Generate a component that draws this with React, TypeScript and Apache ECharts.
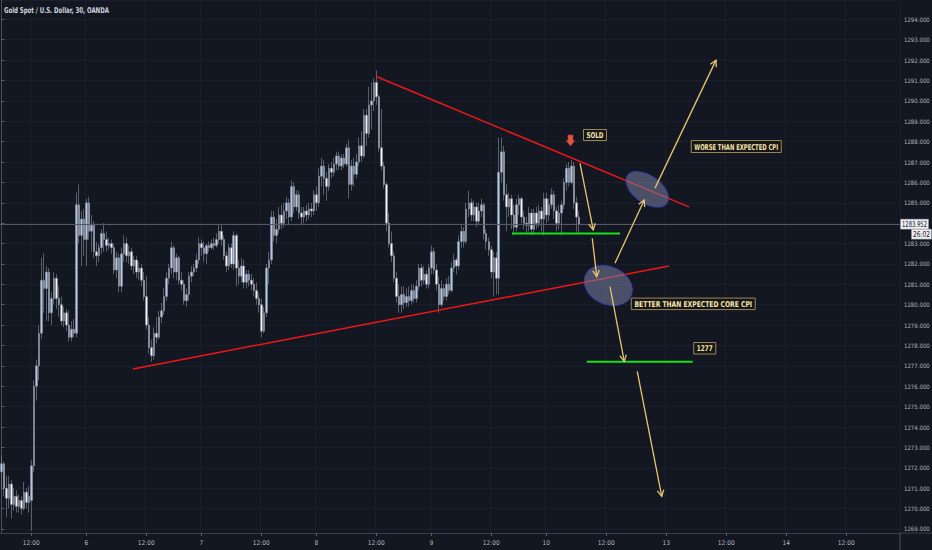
import React, { useEffect, useRef } from "react";
import * as echarts from "echarts";

// ---- candle data [open, close, low, high], one array per trading session ----
const session5: number[][] = [
  [1271.8, 1272.2, 1271.0, 1272.6], [1272.2, 1271.0, 1270.6, 1272.3], [1271.0, 1270.5, 1269.6, 1271.6],
  [1270.5, 1271.2, 1270.0, 1271.6], [1271.2, 1270.2, 1269.5, 1271.4], [1270.2, 1270.6, 1269.9, 1271.0],
  [1270.6, 1270.1, 1269.8, 1270.9], [1270.1, 1270.4, 1269.8, 1270.7], [1270.4, 1270.0, 1269.7, 1270.6],
  [1270.0, 1270.8, 1269.9, 1271.3], [1270.8, 1270.3, 1270.0, 1271.0], [1270.3, 1270.6, 1269.8, 1271.1],
  [1270.4, 1272.1, 1268.9, 1272.4], [1272.1, 1276.0, 1271.8, 1276.3], [1276.0, 1277.0, 1275.3, 1277.3],
  [1277.0, 1278.6, 1276.3, 1279.0], [1278.6, 1281.2, 1278.3, 1282.3], [1281.2, 1280.8, 1279.6, 1282.5],
  [1280.8, 1281.6, 1279.2, 1281.9], [1281.6, 1279.6, 1279.2, 1281.8], [1279.6, 1280.3, 1279.0, 1280.6],
  [1280.3, 1281.3, 1280.0, 1281.6], [1281.3, 1280.3, 1279.8, 1281.5], [1280.3, 1280.0, 1279.4, 1280.9],
  [1280.0, 1279.2, 1279.0, 1280.4], [1279.2, 1279.6, 1278.9, 1279.9], [1279.6, 1279.0, 1278.7, 1279.8],
  [1279.0, 1278.4, 1278.2, 1279.7], [1278.4, 1278.8, 1278.2, 1279.2], [1278.8, 1278.6, 1278.4, 1279.3],
  [1278.6, 1284.9, 1278.4, 1285.5], [1284.9, 1283.4, 1283.0, 1285.9], [1283.4, 1284.2, 1281.9, 1284.6],
  [1284.2, 1283.2, 1282.4, 1284.7],
];
const session6: number[][] = [
  [1283.2, 1285.0, 1281.9, 1285.2], [1285.0, 1283.6, 1283.2, 1285.3], [1283.6, 1283.9, 1282.6, 1284.4],
  [1283.9, 1282.6, 1282.3, 1284.1], [1282.6, 1282.4, 1281.9, 1283.1], [1282.4, 1282.8, 1282.1, 1283.0],
  [1282.8, 1283.5, 1282.5, 1283.7], [1283.5, 1283.2, 1282.6, 1284.0], [1283.2, 1282.9, 1282.6, 1283.6],
  [1282.9, 1283.0, 1282.7, 1283.3], [1283.0, 1282.8, 1282.5, 1283.2], [1282.8, 1281.7, 1281.5, 1283.0],
  [1281.7, 1282.3, 1281.3, 1282.6], [1282.3, 1280.9, 1280.6, 1282.5], [1280.9, 1282.5, 1280.6, 1282.8],
  [1282.5, 1283.0, 1282.1, 1283.4], [1283.0, 1282.4, 1282.1, 1283.3], [1282.4, 1282.6, 1282.0, 1282.9],
  [1282.6, 1281.9, 1281.7, 1282.8], [1281.9, 1282.2, 1281.5, 1282.4], [1282.2, 1281.6, 1281.3, 1282.4],
  [1281.6, 1281.8, 1281.2, 1282.1], [1281.8, 1281.2, 1280.9, 1282.0], [1281.2, 1280.4, 1280.2, 1281.6],
  [1280.4, 1279.0, 1278.8, 1281.4], [1279.0, 1277.9, 1277.6, 1279.4], [1277.9, 1277.5, 1277.2, 1278.3],
  [1277.5, 1278.6, 1277.3, 1278.9], [1278.6, 1278.4, 1278.1, 1279.4], [1278.4, 1279.4, 1278.3, 1279.7],
  [1279.4, 1279.7, 1279.1, 1280.1], [1279.7, 1280.4, 1279.5, 1280.8], [1280.4, 1281.3, 1280.2, 1281.6],
  [1281.3, 1281.8, 1281.0, 1282.0], [1281.8, 1282.8, 1281.5, 1283.1], [1282.8, 1281.6, 1281.3, 1282.9],
  [1281.6, 1282.3, 1281.2, 1282.5], [1282.3, 1281.2, 1281.0, 1282.4], [1281.2, 1281.0, 1280.7, 1281.6],
  [1281.0, 1280.2, 1280.0, 1281.2], [1280.2, 1280.5, 1279.9, 1280.8], [1280.5, 1281.4, 1280.2, 1281.6],
  [1281.4, 1281.6, 1281.1, 1281.9], [1281.6, 1281.8, 1281.4, 1282.0], [1281.8, 1282.2, 1281.6, 1282.5],
  [1282.2, 1283.0, 1282.0, 1283.3],
];
const session7: number[][] = [
  [1283.0, 1282.8, 1282.4, 1283.2], [1282.8, 1282.5, 1282.1, 1283.1], [1282.5, 1282.9, 1282.0, 1283.0],
  [1282.9, 1282.8, 1282.6, 1283.1], [1282.8, 1283.0, 1282.7, 1283.2], [1283.0, 1282.9, 1282.7, 1283.3],
  [1282.9, 1283.2, 1282.8, 1283.5], [1283.2, 1283.6, 1283.0, 1283.9], [1283.6, 1283.2, 1282.9, 1283.9],
  [1283.2, 1282.4, 1282.2, 1283.4], [1282.4, 1281.9, 1281.6, 1282.6], [1281.9, 1282.8, 1281.7, 1283.0],
  [1282.8, 1282.0, 1281.8, 1283.0], [1282.0, 1283.4, 1281.7, 1283.6], [1283.4, 1281.8, 1280.9, 1283.5],
  [1281.8, 1281.4, 1281.0, 1282.2], [1281.4, 1281.9, 1281.1, 1282.3], [1281.9, 1281.1, 1280.8, 1282.2],
  [1281.1, 1281.5, 1280.8, 1281.7], [1281.5, 1281.2, 1280.9, 1281.7], [1281.2, 1281.0, 1280.7, 1281.5],
  [1281.0, 1280.7, 1280.4, 1281.3], [1280.7, 1280.3, 1280.0, 1281.1], [1280.3, 1280.0, 1279.6, 1280.6],
  [1280.0, 1278.7, 1278.4, 1280.3], [1278.7, 1279.6, 1278.6, 1279.9], [1279.6, 1281.8, 1279.4, 1282.0],
  [1281.8, 1282.2, 1281.0, 1282.6], [1282.2, 1284.3, 1282.0, 1284.6], [1284.3, 1283.4, 1283.1, 1284.6],
  [1283.4, 1283.7, 1283.0, 1284.2], [1283.7, 1284.4, 1283.5, 1284.8], [1284.4, 1284.0, 1283.7, 1284.9],
  [1284.0, 1284.6, 1283.8, 1285.0], [1284.6, 1285.0, 1284.2, 1285.3], [1285.0, 1284.3, 1283.9, 1285.2],
  [1284.3, 1285.8, 1284.1, 1286.1], [1285.8, 1284.8, 1284.5, 1286.0], [1284.8, 1285.4, 1284.6, 1285.6],
  [1285.4, 1284.5, 1284.2, 1285.6], [1284.5, 1284.3, 1283.9, 1284.8], [1284.3, 1284.6, 1284.0, 1284.8],
  [1284.6, 1284.4, 1284.1, 1284.9], [1284.4, 1284.7, 1284.2, 1285.0], [1284.7, 1284.6, 1284.3, 1285.0],
  [1284.6, 1285.4, 1284.4, 1285.6],
];
const session8: number[][] = [
  [1285.4, 1285.0, 1284.6, 1285.8], [1285.0, 1286.3, 1284.8, 1286.7], [1286.3, 1286.8, 1285.8, 1287.2],
  [1286.8, 1286.2, 1285.4, 1287.1], [1286.2, 1285.8, 1285.1, 1286.5], [1285.8, 1286.7, 1285.6, 1286.9],
  [1286.7, 1286.5, 1286.2, 1287.0], [1286.5, 1286.9, 1286.3, 1287.2], [1286.9, 1287.3, 1286.6, 1287.5],
  [1287.3, 1286.8, 1286.6, 1287.5], [1286.8, 1287.2, 1286.6, 1287.4], [1287.2, 1286.9, 1286.7, 1287.4],
  [1286.9, 1287.7, 1286.8, 1287.9], [1287.7, 1285.9, 1285.2, 1288.1], [1285.9, 1286.8, 1285.6, 1287.1],
  [1286.8, 1286.4, 1285.8, 1287.2], [1286.4, 1287.0, 1286.2, 1287.4], [1287.0, 1287.8, 1286.8, 1288.2],
  [1287.8, 1287.3, 1287.0, 1288.5], [1287.3, 1289.3, 1287.2, 1289.6], [1289.3, 1288.4, 1287.8, 1289.6],
  [1288.4, 1289.8, 1288.2, 1290.7], [1289.8, 1290.0, 1288.6, 1290.9], [1290.0, 1290.9, 1289.5, 1291.1],
  [1290.9, 1290.2, 1289.8, 1291.5], [1290.2, 1287.7, 1287.5, 1290.3], [1287.7, 1286.8, 1286.6, 1289.6],
  [1286.8, 1285.9, 1285.7, 1287.0], [1285.9, 1284.0, 1283.6, 1286.0], [1284.0, 1283.0, 1282.8, 1284.5],
  [1283.0, 1282.4, 1282.1, 1283.6], [1282.4, 1281.3, 1281.1, 1282.6], [1281.3, 1280.4, 1280.1, 1281.6],
  [1280.4, 1280.0, 1279.6, 1281.0], [1280.0, 1280.5, 1279.6, 1280.9], [1280.5, 1280.1, 1279.8, 1280.9],
  [1280.1, 1280.4, 1279.9, 1280.8], [1280.4, 1280.2, 1279.9, 1280.9], [1280.2, 1280.7, 1280.0, 1281.0],
  [1280.7, 1280.3, 1280.1, 1281.0], [1280.3, 1280.9, 1280.1, 1281.2], [1280.9, 1281.8, 1280.7, 1282.0],
  [1281.8, 1281.2, 1280.9, 1282.0], [1281.2, 1281.5, 1281.0, 1281.9], [1281.5, 1281.0, 1280.8, 1281.7],
  [1281.0, 1281.8, 1280.8, 1282.0],
];
const session9: number[][] = [
  [1281.8, 1282.6, 1281.5, 1282.9], [1282.6, 1281.7, 1281.5, 1282.8], [1281.7, 1281.0, 1280.7, 1282.0],
  [1281.0, 1280.0, 1279.6, 1281.4], [1280.0, 1280.8, 1279.9, 1281.2], [1280.8, 1280.4, 1280.2, 1281.0],
  [1280.4, 1281.0, 1280.2, 1281.3], [1281.0, 1280.7, 1280.5, 1281.4], [1280.7, 1281.8, 1280.6, 1282.1],
  [1281.8, 1282.2, 1281.6, 1282.5], [1282.2, 1281.9, 1281.5, 1282.3], [1281.9, 1283.1, 1281.7, 1283.4],
  [1283.1, 1283.6, 1282.8, 1283.9], [1283.6, 1283.1, 1282.8, 1283.8], [1283.1, 1284.7, 1283.0, 1285.0],
  [1284.7, 1285.0, 1284.3, 1285.6], [1285.0, 1284.4, 1284.1, 1285.2], [1284.4, 1284.8, 1284.1, 1285.1],
  [1284.8, 1284.1, 1283.8, 1285.0], [1284.1, 1284.6, 1283.9, 1285.0], [1284.6, 1284.9, 1284.3, 1285.2],
  [1284.9, 1283.5, 1283.2, 1285.0], [1283.5, 1283.1, 1282.7, 1283.7], [1283.1, 1282.7, 1282.4, 1283.3],
  [1282.7, 1281.6, 1281.3, 1282.9], [1281.6, 1282.3, 1280.4, 1282.6], [1282.3, 1281.3, 1280.5, 1282.6],
  [1281.3, 1286.5, 1280.5, 1288.2], [1286.5, 1287.5, 1286.0, 1288.2], [1287.5, 1285.4, 1285.1, 1287.8],
  [1285.4, 1284.8, 1283.6, 1285.9], [1284.8, 1285.2, 1284.3, 1285.5], [1285.2, 1284.4, 1283.7, 1285.4],
  [1284.4, 1283.8, 1283.4, 1284.9], [1283.8, 1284.9, 1283.6, 1285.2], [1284.9, 1285.2, 1284.4, 1285.4],
  [1285.2, 1284.3, 1284.0, 1285.3], [1284.3, 1284.0, 1283.7, 1284.6], [1284.0, 1283.9, 1283.5, 1284.3],
  [1283.9, 1284.5, 1283.6, 1284.8], [1284.5, 1283.7, 1283.4, 1284.7], [1283.7, 1284.5, 1283.5, 1284.7],
  [1284.5, 1284.0, 1283.7, 1284.8], [1284.0, 1284.6, 1283.8, 1284.9], [1284.6, 1284.2, 1283.6, 1284.8],
  [1284.2, 1285.2, 1283.4, 1285.5],
];
const session10: number[][] = [
  [1285.2, 1284.4, 1284.0, 1285.5], [1284.4, 1284.9, 1284.1, 1285.2], [1284.9, 1285.4, 1284.7, 1285.7],
  [1285.4, 1284.6, 1284.2, 1285.6], [1284.6, 1284.0, 1283.6, 1284.8], [1284.0, 1284.5, 1283.7, 1284.9],
  [1284.5, 1284.9, 1283.4, 1285.1], [1284.9, 1286.0, 1284.7, 1286.2], [1286.0, 1286.7, 1285.6, 1286.9],
  [1286.7, 1286.0, 1285.8, 1287.0], [1286.0, 1286.8, 1285.9, 1287.1], [1286.8, 1285.0, 1284.7, 1287.0],
  [1285.0, 1284.3, 1283.6, 1285.3], [1284.3, 1283.95, 1283.5, 1284.6],
];

// ---- axis ticks ----
const slotCount = 360; // 30-minute slots on the time axis (incl. empty future space)
const xTickIndex = [12, 34, 58, 80, 104, 126, 150, 172, 196, 218, 242, 266, 290, 314, 338];
const xTickText = ["12:00", "6", "12:00", "7", "12:00", "8", "12:00", "9", "12:00", "10", "12:00", "13", "12:00", "14", "12:00"];
const priceMin = 1268.8;
const priceMax = 1294.95;
const lastPrice = 1283.952;
const countdownText = "26:02";
const titleText = "Gold Spot / U.S. Dollar, 30, OANDA";

// ---- drawings, in [slot, price] ----
const upperTrend = [[150, 1291.2], [275.1, 1284.8]];
const lowerTrend = [[52.7, 1276.85], [267.1, 1281.9]];
const entryLevel = [[204.3, 1283.5], [247.5, 1283.5]];
const targetLevel = [[234.2, 1277.2], [276.6, 1277.2]];
const arrowPaths = [
  [[231.5, 1286.93], [236.8, 1283.67]],
  [[236.4, 1283.26], [238.2, 1281.38]],
  [[245.5, 1282.04], [257.2, 1285.14]],
  [[261.5, 1285.72], [285.9, 1292.0]],
  [[243.5, 1280.89], [249.2, 1277.22]],
  [[254.4, 1276.73], [264.2, 1270.6]],
];
const zoneCenters = [[258.4, 1285.66], [242.8, 1280.94]];
const noteTexts = ["SOLD", "WORSE THAN EXPECTED CPI", "BETTER THAN EXPECTED CORE CPI", "1277"];
const noteAnchors = [[232.7, 1288.62], [275.8, 1288.08], [251.8, 1280.35], [276.8, 1278.17]];
const sellMarkAnchor = [227.7, 1288.33];

const NARROW = '"Liberation Sans Narrow", "DejaVu Sans Condensed", "Roboto Condensed", "Arial Narrow", sans-serif';
const BG = "#131722";

export default function App() {
  const ref = useRef<HTMLDivElement>(null);
  useEffect(() => {
    if (!ref.current) return;
    const chart = echarts.init(ref.current, undefined, { renderer: "svg" });
    const candles = [...session5, ...session6, ...session7, ...session8, ...session9, ...session10];
    const slots = Array.from({ length: slotCount }, (_, i) => String(i));
    const tickSet = new Map<number, string>();
    xTickIndex.forEach((ix, k) => tickSet.set(ix, xTickText[k]));
    const showTick = (i: number) => tickSet.has(i);

    const ctx = document.createElement("canvas").getContext("2d")!;
    const measure = (t: string, font: string) => {
      ctx.font = font;
      return ctx.measureText(t).width || 1;
    };

    const lineSeries = (data: number[][], color: string, width: number) => ({
      type: "line",
      xAxisIndex: 1,
      yAxisIndex: 0,
      data,
      symbol: "none",
      silent: true,
      lineStyle: { color, width },
      z: 4,
    });

    chart.setOption({
      animation: false,
      backgroundColor: BG,
      grid: { left: 0, right: 32, top: 0, bottom: 17, containLabel: false, outerBoundsMode: "none" },
      xAxis: [
        {
          type: "category",
          data: slots,
          boundaryGap: true,
          axisLine: { lineStyle: { color: "#3b3f4a", width: 1 } },
          axisTick: { show: true, alignWithLabel: true, interval: (i: number) => showTick(i), length: 3, lineStyle: { color: "#5d606b" } },
          axisLabel: {
            interval: (i: number) => showTick(i),
            formatter: (_v: string, i: number) => tickSet.get(i) ?? "",
            color: "#b2b5be",
            fontSize: 6.5,
            fontFamily: NARROW,
            margin: 6,
            hideOverlap: false,
          },
          splitLine: { show: true, interval: (i: number) => showTick(i), lineStyle: { color: "#1b1f2b", width: 1 } },
        },
        { type: "value", min: -0.5, max: slotCount - 0.5, show: false },
      ],
      yAxis: {
        type: "value",
        position: "right",
        min: priceMin,
        max: priceMax,
        splitNumber: 25,
        axisLine: { show: true, lineStyle: { color: "#4a4e59" } },
        axisTick: { show: true, length: 3, lineStyle: { color: "#5d606b" } },
        axisLabel: {
          color: "#b2b5be",
          fontSize: 6,
          fontFamily: NARROW,
          margin: 4,
          showMinLabel: false,
          showMaxLabel: false,
          formatter: (v: number) => (Math.abs(v - lastPrice) < 0.5 ? "" : v.toFixed(3)),
        },
        splitLine: { show: true, lineStyle: { color: "#1b1f2b", width: 1 } },
      },
      series: [
        {
          type: "candlestick",
          xAxisIndex: 0,
          yAxisIndex: 0,
          data: candles,
          barWidth: 2,
          itemStyle: {
            color: "#b0c8ee",
            color0: "#f4f6fb",
            borderColor: "#8a909c",
            borderColor0: "#8a909c",
            borderWidth: 0.6,
          },
          markLine: {
            silent: true,
            symbol: ["none", "none"],
            label: { show: false },
            lineStyle: { color: "#555965", width: 1, type: "solid" },
            data: [{ yAxis: lastPrice }],
          },
          z: 2,
        },
        lineSeries(upperTrend, "#f01616", 1.5),
        lineSeries(lowerTrend, "#f01616", 1.5),
        lineSeries(entryLevel, "#18e018", 2),
        lineSeries(targetLevel, "#18e018", 2),
      ],
    });

    const px = (p: number[]) => chart.convertToPixel({ seriesIndex: 1 }, p) as number[];
    const gfx: any[] = [];

    // text scaled horizontally to fit a target width
    const fitText = (t: string, cx: number, cy: number, font: string, maxW: number, fill: string, align = "center", z = 70) => {
      const w = measure(t, font);
      const s = Math.min(1, maxW / w);
      return {
        type: "text",
        x: cx,
        y: cy,
        scaleX: s,
        style: { text: t, font, fill, align, textAlign: align, verticalAlign: "middle", textVerticalAlign: "middle" },
        z,
        silent: true,
      };
    };

    // title
    gfx.push(fitText(titleText, 4, 10.5, `bold 8px ${NARROW}`, 105, "#d1d4dc", "left", 90));

    const zoneShapes = [
      { rx: 24, ry: 13.6, rot: 35 },
      { rx: 25, ry: 18.7, rot: 25 },
    ];
    zoneCenters.forEach((c, k) => {
      const p = px(c);
      gfx.push({
        type: "ellipse",
        x: p[0],
        y: p[1],
        rotation: (-zoneShapes[k].rot * Math.PI) / 180,
        shape: { cx: 0, cy: 0, rx: zoneShapes[k].rx, ry: zoneShapes[k].ry },
        style: { fill: "rgba(118,128,160,0.55)", stroke: "#3b40a6", lineWidth: 1 },
        z: 50,
        silent: true,
      });
    });
    const gold = "#e8c46c";
    arrowPaths.forEach((seg) => {
      const a = px(seg[0]);
      const b = px(seg[1]);
      gfx.push({ type: "line", shape: { x1: a[0], y1: a[1], x2: b[0], y2: b[1] }, style: { stroke: gold, lineWidth: 1.3 }, z: 60, silent: true });
      const dx = b[0] - a[0];
      const dy = b[1] - a[1];
      const len = Math.hypot(dx, dy);
      const ux = dx / len;
      const uy = dy / len;
      const ang = (28 * Math.PI) / 180;
      const h = 7;
      const rot = (s: number) => [ux * Math.cos(s * ang) - uy * Math.sin(s * ang), ux * Math.sin(s * ang) + uy * Math.cos(s * ang)];
      const r1 = rot(1);
      const r2 = rot(-1);
      gfx.push({
        type: "polyline",
        shape: { points: [[b[0] - h * r1[0], b[1] - h * r1[1]], [b[0], b[1]], [b[0] - h * r2[0], b[1] - h * r2[1]]] },
        style: { stroke: gold, lineWidth: 1.3, fill: "none" },
        z: 60,
        silent: true,
      });
    });

    const noteSizes = [[23, 11], [90, 12], [124, 11.5], [22, 11.5]];
    noteTexts.forEach((t, k) => {
      const p = px(noteAnchors[k]);
      const [w, h] = noteSizes[k];
      gfx.push({
        type: "rect",
        shape: { x: p[0] + 0.5, y: p[1] + 0.5, width: w, height: h },
        style: { fill: "#161616", stroke: "#9d8855", lineWidth: 1 },
        z: 69,
        silent: true,
      });
      gfx.push(fitText(t, p[0] + 0.5 + w / 2, p[1] + 0.5 + h / 2 + 0.3, `bold 8px ${NARROW}`, w - 6, "#f8e6ae"));
    });
    const m = px(sellMarkAnchor);
    gfx.push({
      type: "polygon",
      shape: {
        points: [
          [m[0] - 2.5, m[1]], [m[0] + 2.5, m[1]], [m[0] + 2.5, m[1] + 5.5], [m[0] + 4.5, m[1] + 5.5],
          [m[0], m[1] + 11], [m[0] - 4.5, m[1] + 5.5], [m[0] - 2.5, m[1] + 5.5],
        ],
      },
      style: { fill: "#e0563f", stroke: "#a83a2c", lineWidth: 0.6 },
      z: 70,
      silent: true,
    });

    // last-price tag and countdown on the price scale
    const lp = px([0, lastPrice]);
    gfx.push({
      type: "rect",
      shape: { x: 900.5, y: lp[1] - 5, width: 28, height: 10 },
      style: { fill: "#eceef2", stroke: "#9598a1", lineWidth: 0.5 },
      z: 79,
      silent: true,
    });
    gfx.push(fitText(lastPrice.toFixed(3), 914.5, lp[1] + 0.3, `8px ${NARROW}`, 25, "#131722", "center", 80));
    gfx.push({
      type: "rect",
      shape: { x: 911.5, y: lp[1] + 5, width: 20, height: 10 },
      style: { fill: "#eceef2", stroke: "#9598a1", lineWidth: 0.5 },
      z: 79,
      silent: true,
    });
    gfx.push(fitText(countdownText, 921.5, lp[1] + 10.3, `8px ${NARROW}`, 17, "#131722", "center", 80));

    gfx.push({ type: "line", shape: { x1: 900, y1: 533, x2: 932, y2: 533 }, style: { stroke: "#3b3f4a", lineWidth: 1 }, z: 5, silent: true });
    gfx.push({ type: "line", shape: { x1: 900, y1: 533, x2: 900, y2: 550 }, style: { stroke: "#4a4e59", lineWidth: 1 }, z: 5, silent: true });
    chart.setOption({ graphic: gfx });

    return () => chart.dispose();
  }, []);

  return <div ref={ref} style={{ position: "fixed", left: 0, top: 0, width: 932, height: 550 }} />;
}
